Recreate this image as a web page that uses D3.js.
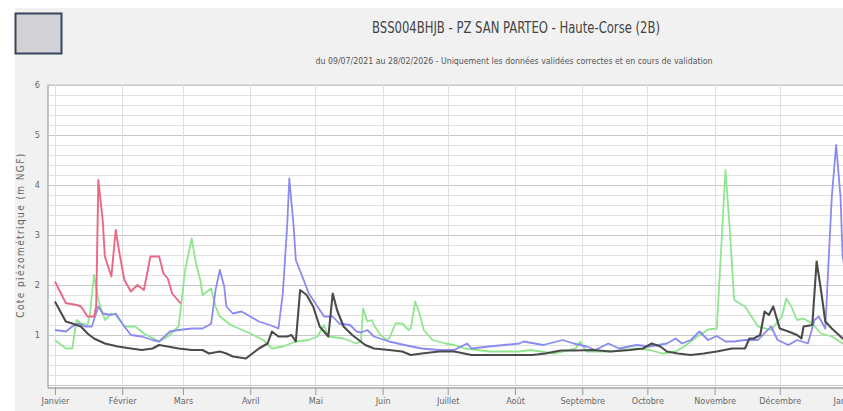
<!DOCTYPE html>
<meta charset="utf-8">
<style>
body {
  margin: 0;
  background: white;
}
svg text {
  font-family: 'Liberation Sans Narrow', 'DejaVu Sans Condensed', sans-serif;
}
.title {
  font-size: 16px;
  fill: #444;
}
.subtitle {
  font-size: 9px;
  fill: #555;
}
.grid line {
  stroke: #e0e0e0;
  shape-rendering: crispEdges;
}
.grid .major line {
  stroke: #c8c8c8;
}
.grid path {
  stroke: none;
}
.axis text {
  font-size: 9px;
  fill: #666;
}
.axis path {
  stroke: none;
}
.axis line {
  stroke: #999;
}
.series {
  fill: none;
  stroke-linejoin: round;
}
</style>
<svg id="chart" width="843" height="411">
  <defs>
    <filter id="soft" x="-5%" y="-5%" width="110%" height="110%">
      <feGaussianBlur stdDeviation="0.45"></feGaussianBlur>
    </filter>
  </defs>
</svg>
<script src="https://d3js.org/d3.v7.min.js"></script>
<script>

var title = "BSS004BHJB - PZ SAN PARTEO - Haute-Corse (2B)";
var subtitle = "du 09/07/2021 au 28/02/2026 - Uniquement les données validées correctes et en cours de validation";
var yTitle = "Cote piézométrique (m NGF)";

// month start (day of year) and label
var monthDays = [0, 31, 59, 90, 120, 151, 181, 212, 243, 273, 304, 334, 365];
var monthNames = ["Janvier", "Février", "Mars", "Avril", "Mai", "Juin", "Juillet",
  "Août", "Septembre", "Octobre", "Novembre", "Décembre", "Janvier"];
var yTicks = [1, 2, 3, 4, 5, 6];

// [day of year, level in m NGF]
var red = [[0,2.07],[5,1.64],[10,1.6],[12,1.57],[15,1.37],[18,1.37],[19,1.57],[20,4.1],[22,3.3],
  [23,2.57],[26,2.17],[28,3.1],[30,2.57],[32,2.1],[35,1.87],[38,2.0],[41,1.9],[44,2.57],[48,2.57],
  [50,2.23],[52,2.13],[54,1.83],[58,1.63]];

var green = [[0,0.9],[5,0.73],[8,0.73],[10,1.3],[12,1.23],[15,1.2],[16,1.37],[18,2.2],[20,1.7],
  [23,1.3],[26,1.43],[28,1.4],[32,1.17],[37,1.17],[41,1.03],[48,0.87],[52,0.97],[57,1.17],[60,2.3],
  [63,2.93],[65,2.43],[67,2.1],[68,1.8],[72,1.93],[74,1.57],[76,1.37],[81,1.2],[90,1.03],[96,0.9],
  [100,0.73],[105,0.77],[111,0.87],[117,0.9],[121,0.97],[124,1.2],[126,0.97],[133,0.93],[139,0.83],
  [141,0.87],[142,1.53],[144,1.27],[146,1.3],[147,1.2],[150,1.0],[153,0.9],[154,0.93],[157,1.23],
  [160,1.23],[163,1.1],[164,1.13],[166,1.67],[168,1.43],[170,1.1],[174,0.9],[180,0.83],[184,0.8],
  [189,0.73],[200,0.67],[214,0.67],[219,0.7],[230,0.63],[240,0.73],[242,0.87],[245,0.67],[256,0.67],
  [268,0.73],[274,0.7],[280,0.63],[286,0.67],[290,0.77],[296,0.97],[301,1.11],[305,1.13],[309,4.3],
  [311,3.1],[313,1.7],[318,1.57],[324,1.17],[330,1.1],[335,1.37],[337,1.73],[339,1.6],[342,1.3],
  [345,1.33],[349,1.23],[353,1.03],[358,0.97],[363,0.83],[365,0.8]];

var blue = [[0,1.1],[5,1.07],[8,1.17],[11,1.23],[14,1.17],[17,1.17],[20,1.57],[22,1.43],[26,1.4],
  [28,1.43],[32,1.17],[35,1.0],[40,0.97],[45,0.9],[48,0.87],[53,1.07],[57,1.1],[63,1.13],[68,1.13],
  [71,1.2],[72,1.23],[74,1.9],[76,2.3],[78,1.97],[79,1.57],[82,1.43],[86,1.47],[90,1.37],[94,1.27],
  [99,1.2],[103,1.13],[105,1.83],[107,3.17],[108,4.13],[110,3.17],[111,2.5],[114,2.17],[117,1.83],
  [121,1.57],[124,1.37],[128,1.37],[131,1.23],[136,1.2],[139,1.07],[141,1.05],[144,1.1],[147,0.97],
  [154,0.87],[161,0.8],[169,0.73],[177,0.7],[184,0.7],[190,0.83],[192,0.73],[200,0.77],[207,0.8],
  [214,0.83],[216,0.87],[225,0.8],[234,0.9],[239,0.83],[245,0.77],[249,0.7],[255,0.83],[260,0.73],
  [268,0.8],[274,0.77],[282,0.83],[286,0.93],[289,0.83],[293,0.9],[297,1.07],[301,0.9],[305,0.98],
  [309,0.87],[313,0.87],[318,0.9],[324,0.9],[330,1.17],[333,0.9],[338,0.8],[342,0.9],[347,0.83],
  [350,1.3],[352,1.37],[355,1.13],[357,2.9],[358,3.77],[360,4.8],[362,3.77],[363,2.57],[365,2.1]];

var black = [[0,1.67],[3,1.43],[5,1.27],[8,1.23],[12,1.17],[15,1.03],[18,0.93],[23,0.83],[29,0.77],
  [35,0.73],[40,0.7],[45,0.73],[48,0.8],[52,0.77],[57,0.73],[63,0.7],[68,0.7],[71,0.63],[76,0.67],
  [79,0.63],[82,0.57],[88,0.53],[91,0.63],[94,0.73],[98,0.83],[100,1.07],[103,0.97],[107,0.97],
  [109,1.0],[111,0.87],[113,1.9],[116,1.8],[119,1.57],[122,1.17],[126,0.97],[128,1.83],[130,1.5],
  [133,1.17],[137,1.0],[140,0.9],[143,0.8],[147,0.73],[154,0.7],[160,0.67],[164,0.6],[169,0.63],
  [177,0.67],[184,0.67],[192,0.6],[200,0.6],[214,0.6],[220,0.6],[226,0.63],[233,0.69],[240,0.69],
  [248,0.7],[256,0.67],[265,0.7],[271,0.73],[275,0.83],[279,0.77],[282,0.67],[287,0.63],[293,0.6],
  [299,0.63],[305,0.67],[312,0.73],[318,0.73],[320,0.93],[322,0.93],[325,1.0],[327,1.47],[329,1.4],
  [331,1.57],[334,1.13],[338,1.07],[342,1.0],[344,0.93],[345,1.17],[349,1.2],[351,2.47],[353,1.9],
  [355,1.27],[358,1.13],[363,0.93],[365,0.9]];

var series = [
  {data: green, color: "#8fe68f", width: 1.8},
  {data: blue, color: "#8a8af0", width: 1.8},
  {data: red, color: "#ee6686", width: 1.9},
  {data: black, color: "#4c4c4c", width: 2.1}
];

var svg = d3.select("#chart");

// panel background and top-left box
svg.append("rect").attr("x", 15).attr("y", 8).attr("width", 840).attr("height", 410)
    .attr("fill", "#f1f1f1");
svg.append("rect").attr("x", 15.5).attr("y", 13.5).attr("width", 46).attr("height", 40)
    .attr("fill", "#d2d2d6").attr("stroke", "#34465a").attr("stroke-width", 2);

svg.append("text").attr("class", "title")
    .attr("x", 516).attr("y", 33).attr("text-anchor", "middle")
    .attr("textLength", 288).attr("lengthAdjust", "spacingAndGlyphs")
    .text(title);
svg.append("text").attr("class", "subtitle")
    .attr("x", 514).attr("y", 64).attr("text-anchor", "middle")
    .attr("textLength", 397).attr("lengthAdjust", "spacingAndGlyphs")
    .text(subtitle);

var plotLeft = 48, plotRight = 860, plotTop = 85, plotBottom = 388;

var x = d3.scaleLinear().domain([-3.2, 365]).range([plotLeft, 847]);
var y = d3.scaleLinear().domain([-0.06, 6]).range([plotBottom, plotTop]);

svg.append("rect").attr("x", plotLeft).attr("y", plotTop)
    .attr("width", plotRight - plotLeft).attr("height", plotBottom - plotTop)
    .attr("fill", "white").attr("stroke", "#c4c4c4");

// minor + major horizontal grid
var minor = d3.range(0, 6.01, 0.2);
svg.append("g").attr("class", "grid")
    .attr("transform", "translate(" + plotLeft + ",0)")
    .call(d3.axisLeft(y).tickValues(minor).tickSize(-(plotRight - plotLeft)).tickFormat(""))
    .selectAll(".tick")
    .classed("major", function(d) { return Math.abs(d - Math.round(d)) < 0.001; });

// vertical month grid
svg.append("g").attr("class", "grid")
    .attr("transform", "translate(0," + plotBottom + ")")
    .call(d3.axisBottom(x).tickValues(monthDays).tickSize(-(plotBottom - plotTop)).tickFormat(""));

// plot frame lines
svg.append("line").attr("x1", plotLeft).attr("x2", plotRight).attr("y1", plotBottom).attr("y2", plotBottom)
    .attr("stroke", "#999");
svg.append("line").attr("x1", plotLeft).attr("x2", plotLeft).attr("y1", plotTop).attr("y2", plotBottom)
    .attr("stroke", "#aaa");

var line = d3.line()
    .x(function(d) { return x(d[0]); })
    .y(function(d) { return y(d[1]); });

svg.append("g").attr("filter", "url(#soft)").selectAll("path")
    .data(series)
    .enter().append("path")
    .attr("class", "series")
    .attr("stroke", function(d) { return d.color; })
    .attr("stroke-width", function(d) { return d.width; })
    .attr("d", function(d) { return line(d.data); });

// axes
svg.append("g").attr("class", "axis")
    .attr("transform", "translate(0," + plotBottom + ")")
    .call(d3.axisBottom(x).tickValues(monthDays).tickSize(7).tickPadding(3)
      .tickFormat(function(d, i) { return monthNames[i]; }));

svg.append("g").attr("class", "axis")
    .attr("transform", "translate(" + (plotLeft - 8) + ",0)")
    .call(d3.axisLeft(y).tickValues(yTicks).tickSize(0).tickPadding(0).tickFormat(d3.format("d")));

svg.append("text").attr("class", "axis")
    .attr("transform", "translate(24,235) rotate(-90)")
    .attr("text-anchor", "middle")
    .style("font-size", "10px").style("letter-spacing", "1.4px").style("fill", "#666")
    .text(yTitle);

</script>
